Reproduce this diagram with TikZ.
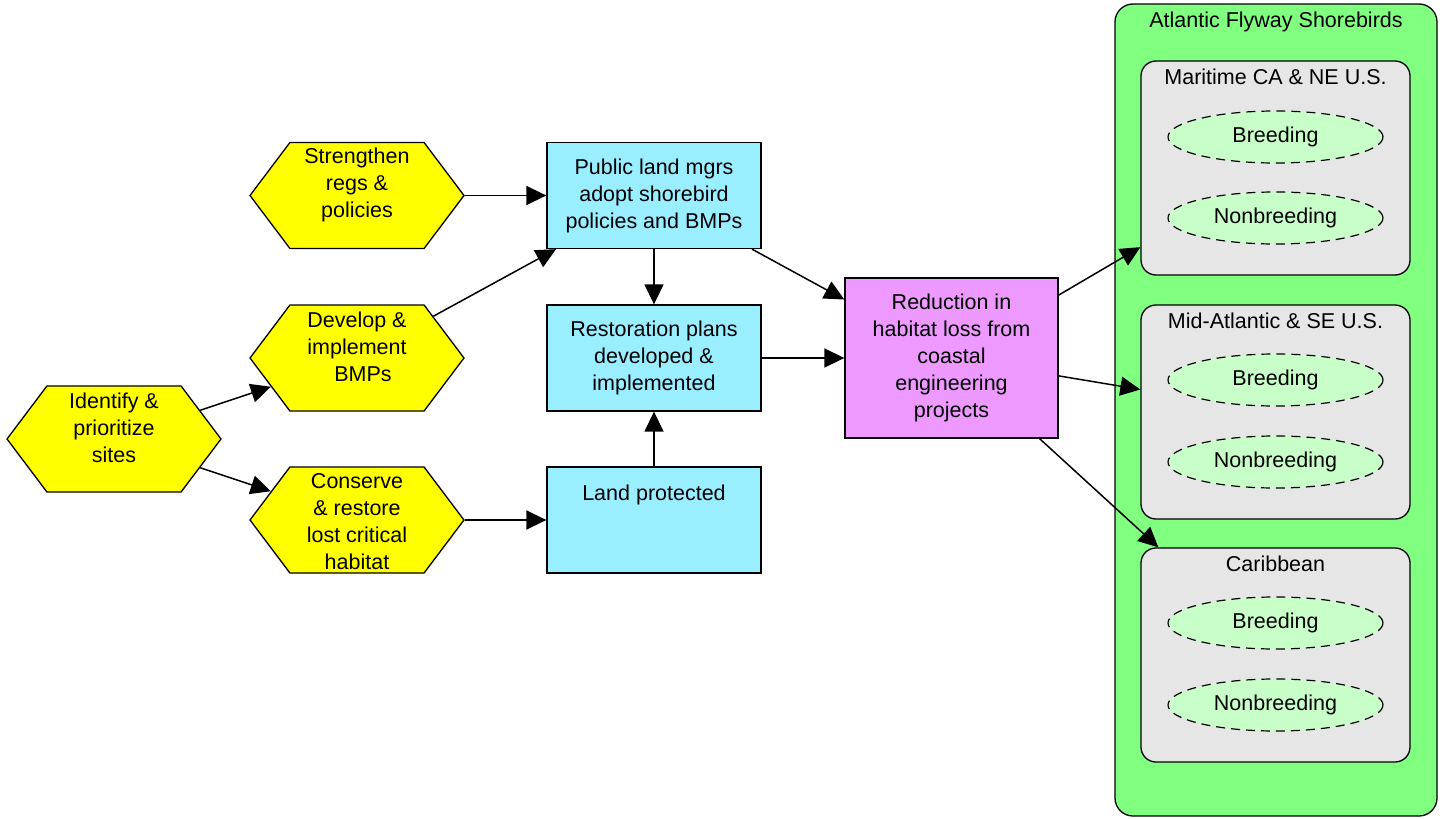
\documentclass[tikz,border=0pt]{standalone}
\usepackage{fontspec}
\setmainfont{Liberation Sans}
\usetikzlibrary{arrows.meta,shapes.symbols,shapes.geometric}
\definecolor{hexyellow}{RGB}{255,255,0}
\definecolor{boxblue}{RGB}{153,238,255}
\definecolor{boxpink}{RGB}{238,153,255}
\definecolor{flygreen}{RGB}{128,255,128}
\definecolor{regiongrey}{RGB}{230,230,230}
\definecolor{seasongreen}{RGB}{200,255,200}
\begin{document}
\begin{tikzpicture}[x=1pt,y=-1pt,
  font=\fontsize{21.5}{27}\selectfont,
  lbl/.style={align=center,inner sep=0pt},
  hexa/.style={signal,signal to=east and west,signal pointer angle=106,
    minimum width=214pt,minimum height=106pt,
    inner sep=0pt,draw,line width=1.3pt,fill=hexyellow},
  stepbox/.style={rectangle,draw,line width=1.3pt,minimum width=214pt,
    minimum height=106pt,inner sep=0pt,fill=boxblue,align=center},
  outcome/.style={rectangle,draw,line width=1.3pt,minimum width=213pt,
    minimum height=160pt,inner sep=0pt,fill=boxpink,align=center},
  flyway/.style={rectangle,rounded corners=18pt,draw,line width=1.3pt,
    fill=flygreen,minimum width=322pt,minimum height=812pt},
  region/.style={rectangle,rounded corners=15pt,draw,line width=1.3pt,
    fill=regiongrey,minimum width=269pt,minimum height=214pt},
  season/.style={ellipse,draw,dashed,dash pattern=on 9pt off 6pt,
    line width=1.2pt,fill=seasongreen,minimum width=215pt,
    minimum height=52pt,inner sep=0pt},
  conn/.style={-{Triangle[length=20pt,width=19pt]},line width=1.5pt}]

\useasboundingbox (0,0) rectangle (1444,819);

% strategies
\node[hexa,label={[lbl,yshift=11pt]center:Identify \&\\prioritize\\sites}] (ident) at (114,439) {};
\node[hexa,label={[lbl,yshift=11pt]center:Strengthen\\regs \&\\policies}] (regs) at (357,195.5) {};
\node[hexa,label={[lbl,yshift=11pt]center:Develop \&\\implement\\\ \ BMPs}] (bmps) at (357,358) {};
\node[hexa,label={[lbl,yshift=-2pt]center:Conserve\\\& restore\\lost critical\\habitat}] (conserve) at (357,520) {};

% intermediate results
\node[stepbox] (public) at (654,195.5) {Public land mgrs\\adopt shorebird\\policies and BMPs};
\node[stepbox] (restore) at (654,358) {Restoration plans\\developed \&\\implemented};
\node[stepbox,label={[lbl,yshift=25pt]center:Land protected}] (land) at (654,520) {};

% threat reduction
\node[outcome] (reduce) at (951.5,358) {Reduction in\\habitat loss from\\coastal\\engineering\\projects};

% target
\node[flyway,label={[lbl,anchor=center,yshift=-19pt]north:Atlantic Flyway Shorebirds}] (fly) at (1276,410) {};
\node[region,label={[lbl,anchor=center,yshift=-16pt]north:Maritime CA \& NE U.S.}] (maritime) at (1275.5,168) {};
\node[region,label={[lbl,anchor=center,yshift=-16pt]north:Mid-Atlantic \& SE U.S.}] (midatl) at (1275.5,412) {};
\node[region,label={[lbl,anchor=center,yshift=-16pt]north:Caribbean}] (carib) at (1275.5,655) {};
\node[season] (mb) at (1275.5,137) {Breeding};
\node[season] (mn) at (1275.5,218) {Nonbreeding};
\node[season] (ab) at (1275.5,380) {Breeding};
\node[season] (an) at (1275.5,462) {Nonbreeding};
\node[season] (cb) at (1275.5,623) {Breeding};
\node[season] (cn) at (1275.5,705) {Nonbreeding};

% connectors
\draw[conn] (ident) -- (bmps);
\draw[conn] (ident) -- (conserve);
\draw[conn] (regs) -- (public);
\draw[conn] (bmps) -- (public);
\draw[conn] (conserve) -- (land);
\draw[conn] (public) -- (restore);
\draw[conn] (land) -- (restore);
\draw[conn] (public) -- (reduce);
\draw[conn] (restore) -- (reduce);
\draw[conn] (reduce) -- (maritime);
\draw[conn] (reduce) -- (midatl);
\draw[conn] (reduce) -- (carib);
\end{tikzpicture}
\end{document}
